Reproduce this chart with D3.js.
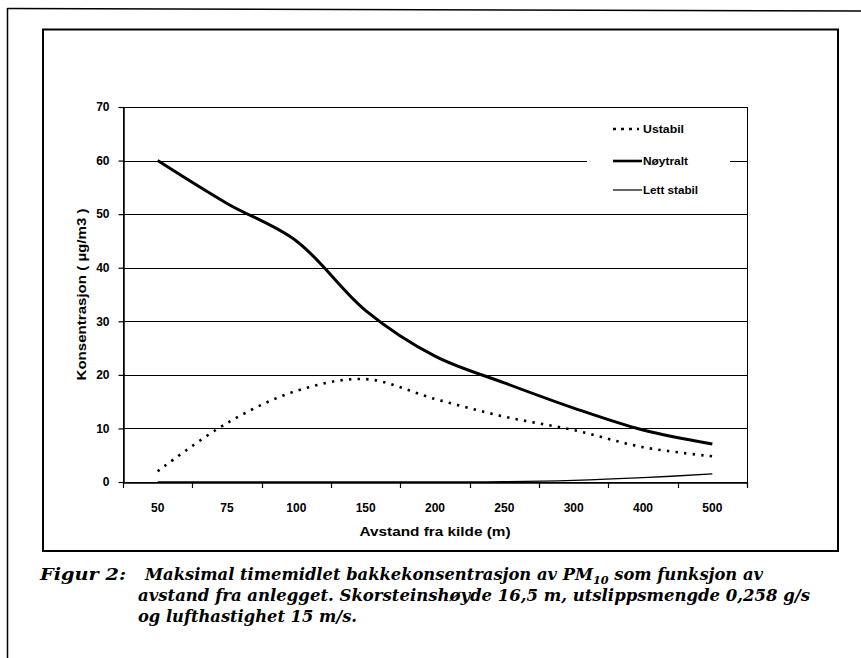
<!DOCTYPE html>
<html><head><meta charset="utf-8">
<script src="https://cdn.jsdelivr.net/npm/d3@7"></script>
<style>body{margin:0;background:#fff}svg{display:block}</style>
</head><body><svg id="c" width="861" height="658"></svg>
<script>
const categories = ["50","75","100","150","200","250","300","400","500"];
const ustabil    = [2, 11, 17, 19.2, 15.5, 12.2, 9.7, 6.5, 4.8];
const noytralt   = [60, 52, 45, 32, 23.5, 18.5, 13.8, 9.7, 7.1];
const lettStabil = [0, 0, 0, 0, 0, 0.05, 0.3, 0.8, 1.5];
const yTicks = [0,10,20,30,40,50,60,70];
const seriesNames = ["Ustabil","Nøytralt","Lett stabil"];
const xTitle = "Avstand fra kilde (m)";
const yTitle = "Konsentrasjon ( µg/m3 )";
const captionLabel = "Figur 2:";

const svg = d3.select("#c");
const L = 123, R = 747, T = 107, B = 482;
const x = d3.scaleBand().domain(categories).range([L, R]).padding(0);
const y = d3.scaleLinear().domain([0, 70]).range([B, T]);
const cx = c => x(c) + x.bandwidth()/2;

// outer document frame
svg.append("line").attr("x1",7.5).attr("y1",8.5).attr("x2",861).attr("y2",11).attr("stroke","#000").attr("stroke-width",1.5);
svg.append("line").attr("x1",7.5).attr("y1",8).attr("x2",7.5).attr("y2",658).attr("stroke","#000").attr("stroke-width",1.5);
// chart box
svg.append("rect").attr("x",43).attr("y",29.5).attr("width",795).attr("height",521.5)
  .attr("fill","none").attr("stroke","#000").attr("stroke-width",2);

const font = "'Liberation Sans', Arial, sans-serif";

// gridlines
svg.append("g").selectAll("line").data(yTicks.filter(d=>d>0&&d<70)).join("line")
  .attr("x1",L).attr("x2",R).attr("y1",d=>Math.round(y(d))+0.5).attr("y2",d=>Math.round(y(d))+0.5)
  .attr("stroke","#000").attr("stroke-width",1);
// plot border
svg.append("rect").attr("x",L+0.5).attr("y",T+0.5).attr("width",R-L).attr("height",B-T)
  .attr("fill","none").attr("stroke","#000").attr("stroke-width",1);

// legend background
svg.append("rect").attr("x",587).attr("y",113).attr("width",143).attr("height",95).attr("fill","#fff");

// series
const clip = svg.append("clipPath").attr("id","pc").append("rect").attr("x",L).attr("y",T).attr("width",R-L).attr("height",B-T+1);
const line = d3.line().x((d,i)=>cx(categories[i])).y(d=>y(d)).curve(d3.curveCatmullRom.alpha(0.5));
const g = svg.append("g").attr("clip-path","url(#pc)");
g.append("path").attr("d",line(lettStabil)).attr("fill","none").attr("stroke","#000").attr("stroke-width",1.3);
g.append("path").attr("d",line(ustabil)).attr("fill","none").attr("stroke","#000").attr("stroke-width",2.6)
  .attr("stroke-dasharray","2.4,6.2");
g.append("path").attr("d",line(noytralt)).attr("fill","none").attr("stroke","#000").attr("stroke-width",3);

// y axis
const ya = svg.append("g").attr("transform",`translate(${L+0.5},0)`)
  .call(d3.axisLeft(y).tickValues(yTicks).tickSize(5).tickSizeOuter(0).tickFormat(d3.format("d")));
ya.select(".domain").attr("stroke","#000").attr("stroke-width",1.5);
ya.selectAll(".tick line").attr("stroke","#000").attr("stroke-width",1.2);
ya.selectAll(".tick text").attr("x",-14).attr("font-family",font).attr("font-weight","bold").attr("font-size",12).attr("fill","#000");

// x axis
const xa = svg.append("g").attr("transform",`translate(0,${B+0.5})`)
  .call(d3.axisBottom(x).tickSize(0).tickSizeOuter(0));
xa.select(".domain").attr("stroke","#000").attr("stroke-width",1.5);
xa.selectAll(".tick text").attr("y",21).attr("font-family",font).attr("font-weight","bold").attr("font-size",12).attr("fill","#000");
svg.append("g").selectAll("line").data(categories.map(c=>x(c)).concat([R])).join("line")
  .attr("x1",d=>Math.round(d)+0.5).attr("x2",d=>Math.round(d)+0.5).attr("y1",B).attr("y2",B+6)
  .attr("stroke","#000").attr("stroke-width",1.2);

// axis titles
svg.append("text").attr("x",(L+R)/2).attr("y",536).attr("text-anchor","middle")
  .attr("font-family",font).attr("font-weight","bold").attr("font-size",12.5)
  .attr("textLength",151).attr("lengthAdjust","spacingAndGlyphs").text(xTitle);
svg.append("text").attr("transform",`translate(86,${(T+B)/2}) rotate(-90)`).attr("text-anchor","middle")
  .attr("font-family",font).attr("font-weight","bold").attr("font-size",12)
  .attr("textLength",172).attr("lengthAdjust","spacingAndGlyphs").text(yTitle);

// legend
const legY = [129, 161, 190];
const legW = [41, 45, 55];
const lg = svg.append("g");
lg.append("line").attr("x1",613).attr("x2",639).attr("y1",legY[0]).attr("y2",legY[0]).attr("stroke","#000").attr("stroke-width",2.4).attr("stroke-dasharray","3,5");
lg.append("line").attr("x1",613).attr("x2",642).attr("y1",legY[1]).attr("y2",legY[1]).attr("stroke","#000").attr("stroke-width",2.6);
lg.append("line").attr("x1",613).attr("x2",642).attr("y1",legY[2]).attr("y2",legY[2]).attr("stroke","#000").attr("stroke-width",1.2);
lg.selectAll("text").data(seriesNames).join("text")
  .attr("x",643).attr("y",(d,i)=>legY[i]).attr("dy","0.35em")
  .attr("font-family",font).attr("font-weight","bold").attr("font-size",10.5)
  .attr("textLength",(d,i)=>legW[i]).attr("lengthAdjust","spacingAndGlyphs").text(d=>d);

// caption
const cf = "'DejaVu Serif', serif";
const cap = svg.append("g").attr("font-family",cf).attr("font-style","italic").attr("font-weight","bold").attr("font-size",16).attr("fill","#000");
cap.append("text").attr("x",40).attr("y",580).attr("textLength",86).attr("lengthAdjust","spacingAndGlyphs").text(captionLabel);
const l1 = cap.append("text").attr("x",145).attr("y",580).attr("textLength",618).attr("lengthAdjust","spacingAndGlyphs");
l1.append("tspan").text("Maksimal timemidlet bakkekonsentrasjon av PM");
l1.append("tspan").attr("font-size",11).attr("dy",4).text("10");
l1.append("tspan").attr("dy",-4).text(" som funksjon av");
cap.append("text").attr("x",138).attr("y",601).attr("textLength",672).attr("lengthAdjust","spacingAndGlyphs")
  .text("avstand fra anlegget. Skorsteinshøyde 16,5 m, utslippsmengde 0,258 g/s");
cap.append("text").attr("x",138).attr("y",622).attr("textLength",219).attr("lengthAdjust","spacingAndGlyphs")
  .text("og lufthastighet 15 m/s.");
</script></body></html>
